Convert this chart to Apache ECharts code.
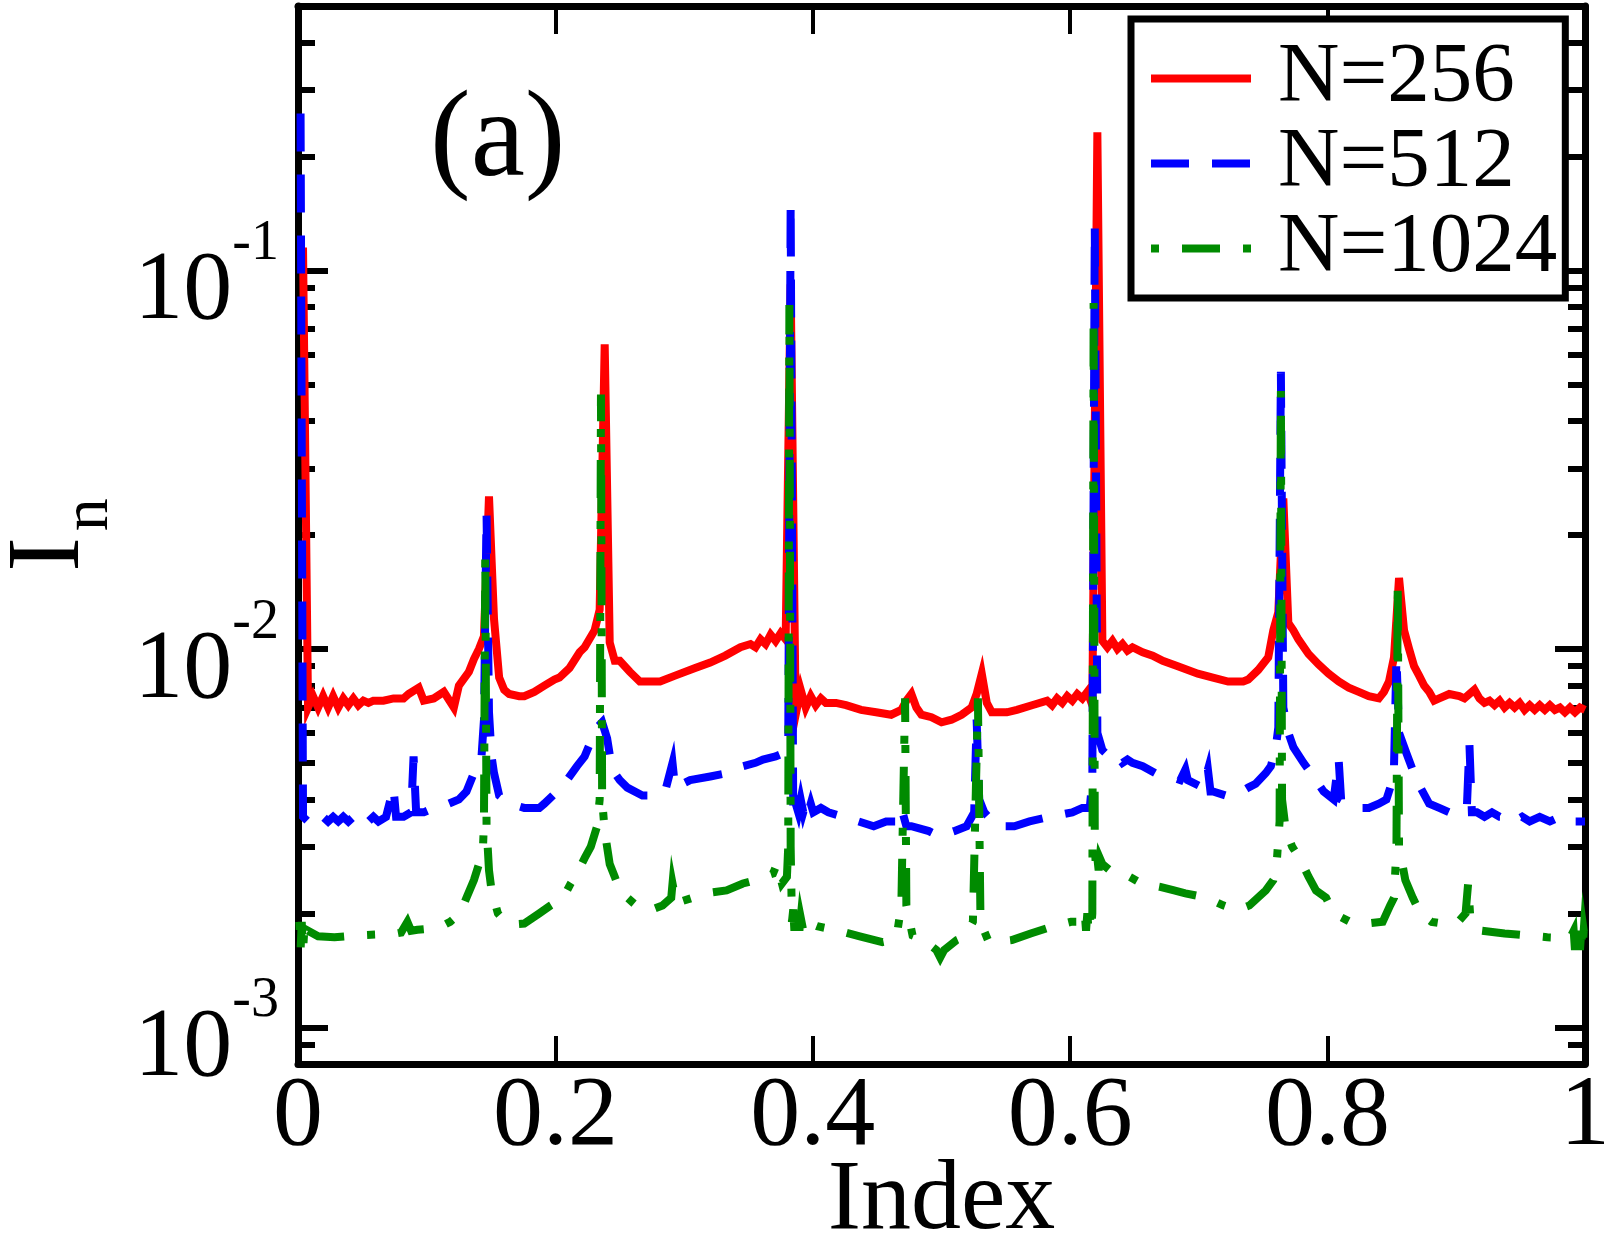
<!DOCTYPE html>
<html>
<head>
<meta charset="utf-8">
<title>I_n vs Index</title>
<script src="https://cdn.jsdelivr.net/npm/echarts@6/dist/echarts.min.js"></script>
<style>
  html, body { margin: 0; padding: 0; background: #fff; }
  #chart { width: 1609px; height: 1236px; }
</style>
</head>
<body>
<div id="chart"></div>
<script>
// [index, I_n]
const n256 = [
  [0.0039, 0.115], [0.0078, 0.0070], [0.0117, 0.0075], [0.0156, 0.0070], [0.0195, 0.0075],
  [0.0234, 0.0070], [0.0273, 0.0075], [0.0313, 0.0070], [0.0352, 0.0074], [0.0391, 0.0071],
  [0.0430, 0.0074], [0.0469, 0.0071], [0.0508, 0.0073], [0.0547, 0.0072], [0.0586, 0.0073],
  [0.0664, 0.0073], [0.0742, 0.0074], [0.0820, 0.0074], [0.0859, 0.0076], [0.0938, 0.0079],
  [0.0977, 0.0073], [0.1055, 0.0074], [0.1133, 0.0077], [0.1211, 0.0070], [0.1250, 0.0080],
  [0.1328, 0.0087], [0.1367, 0.0094], [0.1406, 0.0100], [0.1445, 0.0108], [0.1484, 0.0253],
  [0.1523, 0.0120], [0.1563, 0.0084], [0.1602, 0.0078], [0.1641, 0.0076], [0.1719, 0.0075],
  [0.1758, 0.0075], [0.1836, 0.0077], [0.1914, 0.0080], [0.1992, 0.0083], [0.2031, 0.0084],
  [0.2109, 0.0089], [0.2188, 0.0098], [0.2227, 0.0101], [0.2305, 0.0112], [0.2344, 0.0127],
  [0.2383, 0.0638], [0.2422, 0.0104], [0.2461, 0.0093], [0.2500, 0.0093], [0.2578, 0.0087],
  [0.2656, 0.0082], [0.2734, 0.0082], [0.2813, 0.0082], [0.2930, 0.0085], [0.3086, 0.0089],
  [0.3203, 0.0092], [0.3320, 0.0096], [0.3438, 0.0101], [0.3516, 0.0103], [0.3555, 0.0101],
  [0.3594, 0.0106], [0.3633, 0.0103], [0.3672, 0.0109], [0.3711, 0.0105], [0.3750, 0.0110],
  [0.3789, 0.0106], [0.3828, 0.092], [0.3867, 0.0067], [0.3906, 0.0078], [0.3945, 0.0070],
  [0.3984, 0.0075], [0.4023, 0.0071], [0.4063, 0.0074], [0.4102, 0.0072], [0.4180, 0.0072],
  [0.4258, 0.0071], [0.4375, 0.0069], [0.4492, 0.0068], [0.4609, 0.0067], [0.4688, 0.0069],
  [0.4727, 0.0073], [0.4766, 0.0076], [0.4805, 0.0070], [0.4844, 0.0067], [0.4922, 0.0066],
  [0.5000, 0.0064], [0.5078, 0.0065], [0.5156, 0.0067], [0.5234, 0.0070], [0.5273, 0.0076],
  [0.5313, 0.0086], [0.5352, 0.0072], [0.5391, 0.0068], [0.5508, 0.0068], [0.5586, 0.0069],
  [0.5703, 0.0071], [0.5820, 0.0073], [0.5859, 0.0071], [0.5898, 0.0074], [0.5938, 0.0072],
  [0.5977, 0.0075], [0.6016, 0.0073], [0.6055, 0.0076], [0.6094, 0.0074], [0.6133, 0.0077],
  [0.6172, 0.0071], [0.6211, 0.232], [0.6250, 0.0105], [0.6289, 0.0101], [0.6328, 0.0105],
  [0.6367, 0.0100], [0.6406, 0.0103], [0.6445, 0.0099], [0.6484, 0.0101], [0.6563, 0.0098],
  [0.6641, 0.0096], [0.6719, 0.0093], [0.6836, 0.0090], [0.6992, 0.0086], [0.7109, 0.0084],
  [0.7227, 0.0082], [0.7344, 0.0082], [0.7383, 0.0083], [0.7461, 0.0088], [0.7539, 0.0095],
  [0.7578, 0.0112], [0.7617, 0.0125], [0.7656, 0.025], [0.7695, 0.0117], [0.7734, 0.0112],
  [0.7773, 0.0106], [0.7852, 0.0097], [0.7930, 0.0091], [0.8008, 0.0086], [0.8086, 0.0082],
  [0.8164, 0.0079], [0.8242, 0.0077], [0.8320, 0.0075], [0.8398, 0.0074], [0.8438, 0.0077],
  [0.8477, 0.0082], [0.8516, 0.0095], [0.8555, 0.0154], [0.8594, 0.0112], [0.8633, 0.0100],
  [0.8672, 0.0090], [0.8711, 0.0085], [0.8750, 0.0080], [0.8789, 0.0077], [0.8828, 0.0073],
  [0.8867, 0.0074], [0.8945, 0.0076], [0.9023, 0.0075], [0.9063, 0.0074], [0.9102, 0.0076],
  [0.9141, 0.0078], [0.9180, 0.0074], [0.9219, 0.0072], [0.9258, 0.0073], [0.9297, 0.0071],
  [0.9336, 0.0073], [0.9375, 0.0070], [0.9414, 0.0072], [0.9453, 0.0070], [0.9492, 0.0072],
  [0.9531, 0.0069], [0.9570, 0.0071], [0.9609, 0.0069], [0.9648, 0.0071], [0.9688, 0.0069],
  [0.9727, 0.0071], [0.9766, 0.0069], [0.9805, 0.0070], [0.9844, 0.0068], [0.9883, 0.0070],
  [0.9922, 0.0068], [0.9961, 0.0070], [1.0000, 0.0069]
];

const n512 = [
  [0.0020, 0.26], [0.0039, 0.0036], [0.0078, 0.0035], [0.0117, 0.0036], [0.0156, 0.0035],
  [0.0195, 0.0036], [0.0234, 0.0035], [0.0273, 0.0036], [0.0313, 0.0035], [0.0352, 0.0036],
  [0.0391, 0.0035], [0.0430, 0.0036], [0.0469, 0.0035], [0.0508, 0.0036], [0.0547, 0.0035],
  [0.0586, 0.0036], [0.0625, 0.0035], [0.0684, 0.0036], [0.0742, 0.0043], [0.0762, 0.0036],
  [0.0820, 0.0036], [0.0879, 0.0037], [0.0898, 0.0052], [0.0918, 0.0037], [0.0977, 0.0037],
  [0.1055, 0.0038], [0.1172, 0.0039], [0.1250, 0.0040], [0.1309, 0.0042], [0.1367, 0.0047],
  [0.1426, 0.0052], [0.1445, 0.0065], [0.1465, 0.0228], [0.1484, 0.0068], [0.1504, 0.0052],
  [0.1523, 0.0047], [0.1563, 0.0041], [0.1641, 0.0039], [0.1758, 0.0038], [0.1875, 0.0038],
  [0.1914, 0.0039], [0.2012, 0.0042], [0.2090, 0.0045], [0.2168, 0.0049], [0.2227, 0.0052],
  [0.2285, 0.0058], [0.2324, 0.0062], [0.2363, 0.0064], [0.2402, 0.0058], [0.2441, 0.0048],
  [0.2500, 0.0045], [0.2559, 0.0043], [0.2676, 0.0041], [0.2754, 0.0041], [0.2852, 0.0042],
  [0.2910, 0.0050], [0.2930, 0.0043], [0.3047, 0.0045], [0.3203, 0.0046], [0.3340, 0.0047],
  [0.3457, 0.0049], [0.3555, 0.0050], [0.3613, 0.0051], [0.3711, 0.0052], [0.3770, 0.0053],
  [0.3809, 0.0055], [0.3828, 0.151], [0.3848, 0.0036], [0.3867, 0.0039], [0.3887, 0.0037],
  [0.3906, 0.0040], [0.3926, 0.0037], [0.3945, 0.0039], [0.3965, 0.0037], [0.3984, 0.0039],
  [0.4004, 0.0037], [0.4063, 0.0038], [0.4121, 0.0037], [0.4238, 0.0036], [0.4355, 0.0035],
  [0.4473, 0.0034], [0.4570, 0.0035], [0.4648, 0.0035], [0.4688, 0.0038], [0.4727, 0.0034],
  [0.4766, 0.0034], [0.4902, 0.0033], [0.4980, 0.0032], [0.5098, 0.0033], [0.5195, 0.0034],
  [0.5254, 0.0037], [0.5273, 0.0065], [0.5293, 0.0040], [0.5332, 0.0037], [0.5430, 0.0034],
  [0.5566, 0.0034], [0.5684, 0.0035], [0.5840, 0.0036], [0.6016, 0.0037], [0.6094, 0.0038],
  [0.6152, 0.0038], [0.6172, 0.0045], [0.6191, 0.131], [0.6211, 0.0060], [0.6250, 0.0054],
  [0.6328, 0.0051], [0.6367, 0.0052], [0.6406, 0.0050], [0.6445, 0.0051], [0.6484, 0.0050],
  [0.6563, 0.0049], [0.6660, 0.0047], [0.6777, 0.0046], [0.6855, 0.0045], [0.6895, 0.0048],
  [0.6914, 0.0045], [0.7031, 0.0043], [0.7070, 0.0048], [0.7090, 0.0042], [0.7109, 0.0042],
  [0.7207, 0.0041], [0.7285, 0.0041], [0.7383, 0.0043], [0.7441, 0.0044], [0.7520, 0.0047],
  [0.7559, 0.0049], [0.7598, 0.0055], [0.7617, 0.0062], [0.7637, 0.054], [0.7656, 0.0070],
  [0.7695, 0.0060], [0.7734, 0.0055], [0.7813, 0.0050], [0.7891, 0.0046], [0.7969, 0.0042],
  [0.8047, 0.0040], [0.8086, 0.0051], [0.8105, 0.0040], [0.8164, 0.0039], [0.8242, 0.0038],
  [0.8320, 0.0038], [0.8398, 0.0039], [0.8457, 0.0040], [0.8496, 0.0044], [0.8516, 0.0049],
  [0.8535, 0.0095], [0.8555, 0.0060], [0.8613, 0.0053], [0.8691, 0.0045], [0.8789, 0.0039],
  [0.8867, 0.0038], [0.8945, 0.0037], [0.9023, 0.0037], [0.9082, 0.0038], [0.9102, 0.0056],
  [0.9121, 0.0037], [0.9160, 0.0037], [0.9219, 0.0036], [0.9277, 0.0037], [0.9336, 0.0036],
  [0.9395, 0.0036], [0.9453, 0.0035], [0.9512, 0.0036], [0.9570, 0.0035], [0.9648, 0.0036],
  [0.9727, 0.0035], [0.9805, 0.0036], [0.9863, 0.0035], [0.9941, 0.0035], [1.0000, 0.0035]
];

const n1024 = [
  [0.0010, 0.0019], [0.0020, 0.0016], [0.0029, 0.0019], [0.0039, 0.0016], [0.0049, 0.0018],
  [0.0059, 0.0017], [0.0078, 0.0018], [0.0156, 0.00174], [0.0283, 0.00173], [0.0459, 0.00175],
  [0.0615, 0.00176], [0.0723, 0.00176], [0.0801, 0.00178], [0.0850, 0.0019], [0.0879, 0.00180],
  [0.0928, 0.00181], [0.1006, 0.00182], [0.1104, 0.00184], [0.1182, 0.0019], [0.1260, 0.0020],
  [0.1309, 0.0022], [0.1367, 0.00245], [0.1406, 0.0027], [0.1436, 0.0029], [0.1445, 0.0035],
  [0.1455, 0.0178], [0.1465, 0.0034], [0.1484, 0.0026], [0.1504, 0.0023], [0.1553, 0.0020],
  [0.1611, 0.0019], [0.1670, 0.00187], [0.1758, 0.00188], [0.1875, 0.0020], [0.1963, 0.0021],
  [0.2061, 0.0022], [0.2119, 0.0024], [0.2168, 0.00255], [0.2227, 0.0028], [0.2275, 0.0030],
  [0.2324, 0.0034], [0.2344, 0.0040], [0.2354, 0.047], [0.2363, 0.0040], [0.2383, 0.0033],
  [0.2422, 0.0027], [0.2461, 0.0025], [0.2500, 0.0023], [0.2559, 0.0022], [0.2627, 0.0021],
  [0.2734, 0.00204], [0.2832, 0.0021], [0.2900, 0.0022], [0.2910, 0.0024], [0.2939, 0.00213],
  [0.3066, 0.0022], [0.3203, 0.00227], [0.3330, 0.0023], [0.3457, 0.0024], [0.3555, 0.00245],
  [0.3613, 0.0025], [0.3691, 0.00255], [0.3721, 0.0027], [0.3760, 0.0024], [0.3799, 0.0025],
  [0.3809, 0.0030], [0.3818, 0.081], [0.3828, 0.0030], [0.3838, 0.0019], [0.3848, 0.00205],
  [0.3857, 0.0018], [0.3867, 0.0020], [0.3877, 0.0018], [0.3887, 0.0020], [0.3896, 0.0018],
  [0.3906, 0.00195], [0.3926, 0.0018], [0.3945, 0.0019], [0.4033, 0.00185], [0.4199, 0.0018],
  [0.4365, 0.00174], [0.4541, 0.00168], [0.4619, 0.0017], [0.4658, 0.0018], [0.4688, 0.0021],
  [0.4717, 0.0074], [0.4727, 0.0021], [0.4775, 0.00175], [0.4863, 0.0017], [0.4961, 0.0016],
  [0.4990, 0.00153], [0.5020, 0.0016], [0.5117, 0.0017], [0.5186, 0.00174], [0.5244, 0.0019],
  [0.5283, 0.0074], [0.5303, 0.0019], [0.5361, 0.0017], [0.5420, 0.00168], [0.5547, 0.0017],
  [0.5693, 0.00177], [0.5869, 0.00185], [0.6006, 0.0019], [0.6104, 0.0019], [0.6113, 0.0020],
  [0.6123, 0.0018], [0.6133, 0.0020], [0.6143, 0.0018], [0.6152, 0.0020], [0.6162, 0.0018],
  [0.6172, 0.0020], [0.6182, 0.082], [0.6191, 0.0030], [0.6201, 0.0026], [0.6211, 0.0028],
  [0.6221, 0.0026], [0.6230, 0.0028], [0.6250, 0.0027], [0.6309, 0.0026], [0.6406, 0.00256],
  [0.6553, 0.0024], [0.6699, 0.00235], [0.6807, 0.0023], [0.6895, 0.00226], [0.7061, 0.0022],
  [0.7188, 0.0021], [0.7295, 0.00204], [0.7393, 0.0021], [0.7520, 0.0023], [0.7578, 0.00245],
  [0.7607, 0.0028], [0.7627, 0.0035], [0.7637, 0.048], [0.7646, 0.0040], [0.7676, 0.0033],
  [0.7725, 0.0030], [0.7783, 0.0028], [0.7852, 0.0025], [0.7910, 0.0023], [0.7988, 0.0022],
  [0.8047, 0.0020], [0.8174, 0.0019], [0.8301, 0.00188], [0.8428, 0.0019], [0.8486, 0.0021],
  [0.8516, 0.0022], [0.8535, 0.0030], [0.8545, 0.0152], [0.8555, 0.0030], [0.8604, 0.00245],
  [0.8662, 0.0022], [0.8721, 0.0020], [0.8809, 0.0019], [0.8896, 0.00188], [0.9014, 0.0019],
  [0.9072, 0.0020], [0.9092, 0.0024], [0.9111, 0.0019], [0.9199, 0.0018], [0.9375, 0.00177],
  [0.9541, 0.00175], [0.9707, 0.00173], [0.9883, 0.00172], [0.9912, 0.0018], [0.9922, 0.0016],
  [0.9932, 0.0018], [0.9941, 0.0016], [0.9951, 0.0018], [0.9961, 0.0016], [0.9971, 0.0018],
  [0.9980, 0.0016], [0.9990, 0.0018], [1.0000, 0.0017]
];

const seriesNames = ['N=256', 'N=512', 'N=1024'];
const seriesColors = ['#ff0000', '#0000ff', '#008b00'];

// axis ranges and ticks
const xTicks = [0, 0.2, 0.4, 0.6, 0.8, 1];
const yMin = 0.0008;
const yMax = 0.5;
const yMajor = [0.001, 0.01, 0.1];
const yMinor = [
  0.0008, 0.0009,
  0.002, 0.003, 0.004, 0.005, 0.006, 0.007, 0.008, 0.009,
  0.02, 0.03, 0.04, 0.05, 0.06, 0.07, 0.08, 0.09,
  0.2, 0.3, 0.4
];

const FONT = 'Liberation Serif';
const lg = v => Math.log10(v);

const chart = echarts.init(document.getElementById('chart'), null, { renderer: 'canvas' });

// frame pieces shared by the four sides
const frameLine = { show: true, onZero: false, lineStyle: { color: '#000', width: 7 } };
const yRange = { type: 'value', min: lg(yMin), max: lg(yMax), splitLine: { show: false } };
const gridBox = { left: 298, right: 24, top: 6, bottom: 172, outerBoundsMode: 'none', containLabel: false };

const option = {
  animation: false,
  backgroundColor: '#fff',
  textStyle: { fontFamily: FONT, color: '#000' },
  title: {
    text: '(a)',
    left: 430,
    top: 82,
    padding: 0,
    textStyle: { fontFamily: FONT, fontSize: 122, fontWeight: 'normal', color: '#000' }
  },
  legend: {
    orient: 'vertical',
    left: 1131,
    top: 19,
    padding: [17, 8, 7, 16],
    itemWidth: 100,
    itemHeight: 14,
    itemGap: 0,
    backgroundColor: '#fff',
    borderColor: '#000',
    borderWidth: 7,
    itemStyle: { opacity: 0 },
    lineStyle: { width: 8 },
    textStyle: { fontFamily: FONT, fontSize: 85, lineHeight: 85, color: '#000', padding: [0, 0, 0, 22] },
    data: seriesNames
  },
  grid: [Object.assign({}, gridBox), Object.assign({}, gridBox)],
  xAxis: [
    {
      gridIndex: 0, type: 'value', position: 'bottom', min: 0, max: 1, interval: 0.2,
      axisLine: frameLine,
      axisTick: { inside: true, length: 28, lineStyle: { color: '#000', width: 4 } },
      axisLabel: { fontFamily: FONT, fontSize: 100, color: '#000', margin: 4,
        customValues: xTicks },
      splitLine: { show: false },
      name: 'Index', nameLocation: 'middle', nameGap: 88, nameMoveOverlap: false,
      nameTextStyle: { fontFamily: FONT, fontSize: 100, color: '#000' }
    },
    {
      gridIndex: 0, type: 'value', position: 'top', min: 0, max: 1, interval: 0.2,
      axisLine: frameLine,
      axisTick: { inside: true, length: 28, lineStyle: { color: '#000', width: 4 } },
      axisLabel: { show: false },
      splitLine: { show: false }
    },
    { gridIndex: 1, type: 'value', min: 0, max: 1, show: false }
  ],
  yAxis: [
    Object.assign({}, yRange, {
      gridIndex: 0, position: 'left',
      axisLine: frameLine,
      axisTick: { inside: true, length: 30, lineStyle: { color: '#000', width: 6 },
        customValues: yMajor.map(lg) },
      axisLabel: {
        customValues: yMajor.map(lg),
        margin: 19,
        formatter: v => '{b|10}{s|' + Math.round(v) + '}',
        rich: {
          b: { fontFamily: FONT, fontSize: 98, padding: [44, 0, 0, 0],
               verticalAlign: 'bottom', color: '#000' },
          s: { fontFamily: FONT, fontSize: 56, padding: [17, 0, 0, 0],
               verticalAlign: 'top', color: '#000' }
        }
      },
      name: '{i|I}{n|n}', nameLocation: 'middle', nameGap: 175,
      nameTextStyle: {
        rich: {
          i: { fontFamily: FONT, fontSize: 104, verticalAlign: 'top', color: '#000' },
          n: { fontFamily: FONT, fontSize: 66, padding: [58, 0, 0, 6],
               verticalAlign: 'bottom', color: '#000' }
        }
      }
    }),
    Object.assign({}, yRange, {
      gridIndex: 0, position: 'right',
      axisLine: frameLine,
      axisTick: { inside: true, length: 30, lineStyle: { color: '#000', width: 6 },
        customValues: yMajor.map(lg) },
      axisLabel: { show: false }
    }),
    // minor ticks live on an overlaid grid so each side only has one axis
    Object.assign({}, yRange, {
      gridIndex: 1, position: 'left',
      axisLine: { show: false, onZero: false },
      axisTick: { inside: true, length: 17, lineStyle: { color: '#000', width: 6 },
        customValues: yMinor.map(lg) },
      axisLabel: { show: false }
    }),
    Object.assign({}, yRange, {
      gridIndex: 1, position: 'right',
      axisLine: { show: false, onZero: false },
      axisTick: { inside: true, length: 17, lineStyle: { color: '#000', width: 6 },
        customValues: yMinor.map(lg) },
      axisLabel: { show: false }
    })
  ],
  series: [
    { data: n256, type: [] },
    { data: n512, type: [38, 23] },
    { data: n1024, type: [8, 23, 38, 23] }
  ].map((s, i) => ({
    name: seriesNames[i],
    type: 'line',
    xAxisIndex: 0,
    yAxisIndex: 0,
    symbol: 'none',
    silent: true,
    data: s.data.map(p => [p[0], lg(p[1])]),
    lineStyle: {
      color: seriesColors[i],
      width: 8,
      type: s.type.length ? s.type : 'solid',
      cap: 'butt',
      join: 'miter'
    },
    itemStyle: { color: seriesColors[i] }
  }))
};

chart.setOption(option);
</script>
</body>
</html>
